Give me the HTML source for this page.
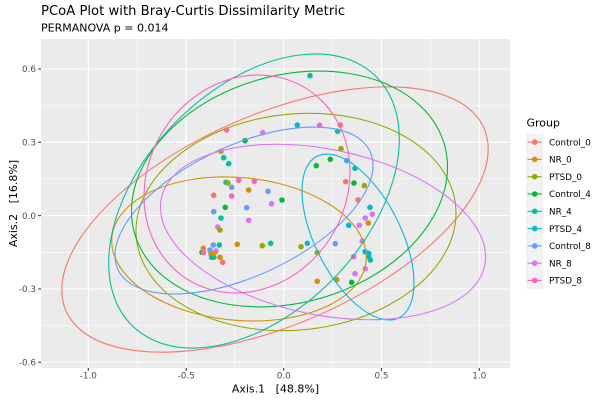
<!DOCTYPE html>
<html>
<head>
<meta charset="utf-8">
<style>
html,body{margin:0;padding:0;background:#fff;}
svg{display:block;}
text{font-family:"DejaVu Sans","Liberation Sans",sans-serif;}
</style>
</head>
<body>
<svg width="600" height="400" viewBox="0 0 600 400" xmlns="http://www.w3.org/2000/svg">
<rect x="0" y="0" width="600" height="400" fill="#fff"/>
<!-- title -->
<text x="41" y="15" font-size="13.2" fill="#000">PCoA Plot with Bray-Curtis Dissimilarity Metric</text>
<text x="41" y="31.7" font-size="11" fill="#000">PERMANOVA p = 0.014</text>

<!-- panel -->
<rect x="41" y="39" width="469" height="329" fill="#EBEBEB"/>
<g stroke="#fff" stroke-width="0.55">
  <line x1="137.6" y1="39" x2="137.6" y2="368"/>
  <line x1="234.8" y1="39" x2="234.8" y2="368"/>
  <line x1="332.6" y1="39" x2="332.6" y2="368"/>
  <line x1="430.4" y1="39" x2="430.4" y2="368"/>
  <line x1="41" y1="105.6" x2="510" y2="105.6"/>
  <line x1="41" y1="178.9" x2="510" y2="178.9"/>
  <line x1="41" y1="252.3" x2="510" y2="252.3"/>
  <line x1="41" y1="325.6" x2="510" y2="325.6"/>
</g>
<g stroke="#fff" stroke-width="1.1">
  <line x1="88.3" y1="39" x2="88.3" y2="368"/>
  <line x1="186.2" y1="39" x2="186.2" y2="368"/>
  <line x1="283.7" y1="39" x2="283.7" y2="368"/>
  <line x1="381.5" y1="39" x2="381.5" y2="368"/>
  <line x1="479.3" y1="39" x2="479.3" y2="368"/>
  <line x1="41" y1="69" x2="510" y2="69"/>
  <line x1="41" y1="142.3" x2="510" y2="142.3"/>
  <line x1="41" y1="215.6" x2="510" y2="215.6"/>
  <line x1="41" y1="289" x2="510" y2="289"/>
  <line x1="41" y1="362.3" x2="510" y2="362.3"/>
</g>

<!-- points -->
<g stroke="none">
<circle cx="226.7" cy="130" r="2.8" fill="#FF61C3"/>
<circle cx="262.7" cy="132.7" r="2.8" fill="#DB72FB"/>
<circle cx="245" cy="140.7" r="2.8" fill="#00BA38"/>
<circle cx="221" cy="151.3" r="2.8" fill="#D39200"/>
<circle cx="223.7" cy="157.7" r="2.8" fill="#00C19F"/>
<circle cx="228.7" cy="163.7" r="2.8" fill="#00C19F"/>
<circle cx="226" cy="182.3" r="2.8" fill="#00C19F"/>
<circle cx="228" cy="183" r="2.8" fill="#93AA00"/>
<circle cx="231.7" cy="187.3" r="2.8" fill="#619CFF"/>
<circle cx="238.7" cy="180.3" r="2.8" fill="#FF61C3"/>
<circle cx="254.3" cy="181.3" r="2.8" fill="#FF61C3"/>
<circle cx="248.7" cy="190" r="2.8" fill="#D39200"/>
<circle cx="268" cy="191.3" r="2.8" fill="#619CFF"/>
<circle cx="213.7" cy="195.3" r="2.8" fill="#F8766D"/>
<circle cx="231.7" cy="196" r="2.8" fill="#FF61C3"/>
<circle cx="271.5" cy="203.7" r="2.8" fill="#DB72FB"/>
<circle cx="213.7" cy="211.7" r="2.8" fill="#619CFF"/>
<circle cx="225.3" cy="207.3" r="2.8" fill="#00BA38"/>
<circle cx="246.7" cy="207.7" r="2.8" fill="#619CFF"/>
<circle cx="221" cy="218" r="2.8" fill="#00C19F"/>
<circle cx="248.7" cy="220.3" r="2.8" fill="#DB72FB"/>
<circle cx="217.7" cy="227" r="2.8" fill="#DB72FB"/>
<circle cx="220" cy="230" r="2.8" fill="#93AA00"/>
<circle cx="213.3" cy="245" r="2.8" fill="#619CFF"/>
<circle cx="219.3" cy="245" r="2.8" fill="#00C19F"/>
<circle cx="237.3" cy="244.3" r="2.8" fill="#D39200"/>
<circle cx="262.3" cy="245.7" r="2.8" fill="#93AA00"/>
<circle cx="270.7" cy="243.3" r="2.8" fill="#00C19F"/>
<circle cx="202" cy="252.3" r="2.8" fill="#00BA38"/>
<circle cx="203.3" cy="248.3" r="2.8" fill="#D39200"/>
<circle cx="203.5" cy="252.3" r="2.8" fill="#FF61C3"/>
<circle cx="210" cy="250" r="2.8" fill="#619CFF"/>
<circle cx="216" cy="251" r="2.8" fill="#DB72FB"/>
<circle cx="211" cy="254" r="2.8" fill="#D39200"/>
<circle cx="211.7" cy="257.3" r="2.8" fill="#00C19F"/>
<circle cx="213.7" cy="257.3" r="2.8" fill="#00C19F"/>
<circle cx="214" cy="253.5" r="2.8" fill="#D39200"/>
<circle cx="220" cy="257.3" r="2.8" fill="#D39200"/>
<circle cx="222.7" cy="262.3" r="2.8" fill="#F8766D"/>

<circle cx="310" cy="75.7" r="2.8" fill="#00C19F"/>
<circle cx="297.3" cy="125" r="2.8" fill="#00B9E3"/>
<circle cx="319.7" cy="125.3" r="2.8" fill="#FF61C3"/>
<circle cx="340.3" cy="125" r="2.8" fill="#F8766D"/>
<circle cx="337.7" cy="131.3" r="2.8" fill="#00C19F"/>
<circle cx="341" cy="148.7" r="2.8" fill="#93AA00"/>
<circle cx="330.3" cy="159.3" r="2.8" fill="#00BA38"/>
<circle cx="346.7" cy="160.7" r="2.8" fill="#619CFF"/>
<circle cx="316.3" cy="165.7" r="2.8" fill="#00BA38"/>
<circle cx="355" cy="168.3" r="2.8" fill="#00C19F"/>
<circle cx="345.7" cy="181.7" r="2.8" fill="#F8766D"/>
<circle cx="354" cy="183" r="2.8" fill="#00BA38"/>
<circle cx="364.3" cy="185.7" r="2.8" fill="#93AA00"/>
<circle cx="282" cy="200" r="2.8" fill="#00BA38"/>
<circle cx="358" cy="200" r="2.8" fill="#F8766D"/>
<circle cx="370" cy="207.3" r="2.8" fill="#00B9E3"/>
<circle cx="372.3" cy="214.3" r="2.8" fill="#DB72FB"/>
<circle cx="365.3" cy="218" r="2.8" fill="#DB72FB"/>
<circle cx="368.3" cy="223" r="2.8" fill="#D39200"/>
<circle cx="348.7" cy="225.3" r="2.8" fill="#00B9E3"/>
<circle cx="359.3" cy="225.3" r="2.8" fill="#DB72FB"/>
<circle cx="301" cy="246.7" r="2.8" fill="#93AA00"/>
<circle cx="307.3" cy="243.3" r="2.8" fill="#00B9E3"/>
<circle cx="335.3" cy="243.7" r="2.8" fill="#619CFF"/>
<circle cx="362.3" cy="241" r="2.8" fill="#DB72FB"/>
<circle cx="317.3" cy="252.7" r="2.8" fill="#93AA00"/>
<circle cx="365" cy="251.7" r="2.8" fill="#00B9E3"/>
<circle cx="368.7" cy="253.3" r="2.8" fill="#00B9E3"/>
<circle cx="368.7" cy="256.3" r="2.8" fill="#00B9E3"/>
<circle cx="370.3" cy="260" r="2.8" fill="#00C19F"/>
<circle cx="353.7" cy="256.7" r="2.8" fill="#FF61C3"/>
<circle cx="365.3" cy="268.7" r="2.8" fill="#DB72FB"/>
<circle cx="355" cy="273.7" r="2.8" fill="#DB72FB"/>
<circle cx="317.3" cy="281.3" r="2.8" fill="#D39200"/>
<circle cx="336.7" cy="279.7" r="2.8" fill="#D39200"/>
<circle cx="351.7" cy="282.3" r="2.8" fill="#00BA38"/>
</g>

<!-- ellipses -->
<g fill="none" stroke-width="1.1">
<circle cx="0" cy="0" r="1" vector-effect="non-scaling-stroke" stroke="#F8766D" transform="matrix(213.2 -70.5 0 112.4 275 219.5)"/>
<circle cx="0" cy="0" r="1" vector-effect="non-scaling-stroke" stroke="#D39200" transform="matrix(127.3 8 0 71.6 239 249)"/>
<circle cx="0" cy="0" r="1" vector-effect="non-scaling-stroke" stroke="#93AA00" transform="matrix(160 -9 0 108.3 296 222)"/>
<circle cx="0" cy="0" r="1" vector-effect="non-scaling-stroke" stroke="#00BA38" transform="matrix(158 -22 0 115.8 289.5 189)"/>
<circle cx="0" cy="0" r="1" vector-effect="non-scaling-stroke" stroke="#00C19F" transform="matrix(145.3 -62 0 133.3 254 201)"/>
<circle cx="0" cy="0" r="1" vector-effect="non-scaling-stroke" stroke="#00B9E3" transform="matrix(56 46 0 69 358 237)"/>
<circle cx="0" cy="0" r="1" vector-effect="non-scaling-stroke" stroke="#619CFF" transform="matrix(129 -45 0 70.3 244 210.5)"/>
<circle cx="0" cy="0" r="1" vector-effect="non-scaling-stroke" stroke="#DB72FB" transform="matrix(162.6 25 0 84.1 323 232)"/>
<circle cx="0" cy="0" r="1" vector-effect="non-scaling-stroke" stroke="#FF61C3" transform="matrix(103 -12 0 108.3 247 184)"/>
</g>

<!-- axes ticks -->
<g stroke="#333" stroke-width="1.1">
  <line x1="38.3" y1="69" x2="41" y2="69"/>
  <line x1="38.3" y1="142.3" x2="41" y2="142.3"/>
  <line x1="38.3" y1="215.6" x2="41" y2="215.6"/>
  <line x1="38.3" y1="289" x2="41" y2="289"/>
  <line x1="38.3" y1="362.3" x2="41" y2="362.3"/>
  <line x1="88.3" y1="368" x2="88.3" y2="370.7"/>
  <line x1="186.2" y1="368" x2="186.2" y2="370.7"/>
  <line x1="283.7" y1="368" x2="283.7" y2="370.7"/>
  <line x1="381.5" y1="368" x2="381.5" y2="370.7"/>
  <line x1="479.3" y1="368" x2="479.3" y2="370.7"/>
</g>
<g font-size="8.8" fill="#4D4D4D">
  <text x="36" y="72.2" text-anchor="end">0.6</text>
  <text x="36" y="145.5" text-anchor="end">0.3</text>
  <text x="36" y="218.8" text-anchor="end">0.0</text>
  <text x="36" y="292.2" text-anchor="end">-0.3</text>
  <text x="36" y="365.5" text-anchor="end">-0.6</text>
  <text x="88.3" y="378.7" text-anchor="middle">-1.0</text>
  <text x="186.2" y="378.7" text-anchor="middle">-0.5</text>
  <text x="283.7" y="378.7" text-anchor="middle">0.0</text>
  <text x="381.5" y="378.7" text-anchor="middle">0.5</text>
  <text x="479.3" y="378.7" text-anchor="middle">1.0</text>
</g>
<text x="275.5" y="392.5" font-size="11" fill="#000" text-anchor="middle" style="white-space:pre" xml:space="preserve">Axis.1   [48.8%]</text>
<text transform="translate(17,203.5) rotate(-90)" font-size="11" fill="#000" text-anchor="middle" style="white-space:pre" xml:space="preserve">Axis.2   [16.8%]</text>

<!-- legend -->
<text x="526.5" y="126.7" font-size="11" fill="#000">Group</text>
<rect x="526" y="133.5" width="17.3" height="155.5" fill="#F2F2F2"/>
<g stroke-width="1.1">
  <line x1="527.5" y1="142.1" x2="541.8" y2="142.1" stroke="#F8766D"/>
  <line x1="527.5" y1="159.4" x2="541.8" y2="159.4" stroke="#D39200"/>
  <line x1="527.5" y1="176.7" x2="541.8" y2="176.7" stroke="#93AA00"/>
  <line x1="527.5" y1="194" x2="541.8" y2="194" stroke="#00BA38"/>
  <line x1="527.5" y1="211.3" x2="541.8" y2="211.3" stroke="#00C19F"/>
  <line x1="527.5" y1="228.6" x2="541.8" y2="228.6" stroke="#00B9E3"/>
  <line x1="527.5" y1="245.9" x2="541.8" y2="245.9" stroke="#619CFF"/>
  <line x1="527.5" y1="263.2" x2="541.8" y2="263.2" stroke="#DB72FB"/>
  <line x1="527.5" y1="280.5" x2="541.8" y2="280.5" stroke="#FF61C3"/>
</g>
<g>
  <circle cx="534.7" cy="142.1" r="2.8" fill="#F8766D"/>
  <circle cx="534.7" cy="159.4" r="2.8" fill="#D39200"/>
  <circle cx="534.7" cy="176.7" r="2.8" fill="#93AA00"/>
  <circle cx="534.7" cy="194" r="2.8" fill="#00BA38"/>
  <circle cx="534.7" cy="211.3" r="2.8" fill="#00C19F"/>
  <circle cx="534.7" cy="228.6" r="2.8" fill="#00B9E3"/>
  <circle cx="534.7" cy="245.9" r="2.8" fill="#619CFF"/>
  <circle cx="534.7" cy="263.2" r="2.8" fill="#DB72FB"/>
  <circle cx="534.7" cy="280.5" r="2.8" fill="#FF61C3"/>
</g>
<g font-size="8.8" fill="#000">
  <text x="549" y="145.3">Control_0</text>
  <text x="549" y="162.6">NR_0</text>
  <text x="549" y="179.9">PTSD_0</text>
  <text x="549" y="197.2">Control_4</text>
  <text x="549" y="214.5">NR_4</text>
  <text x="549" y="231.8">PTSD_4</text>
  <text x="549" y="249.1">Control_8</text>
  <text x="549" y="266.4">NR_8</text>
  <text x="549" y="283.7">PTSD_8</text>
</g>
</svg>
</body>
</html>
